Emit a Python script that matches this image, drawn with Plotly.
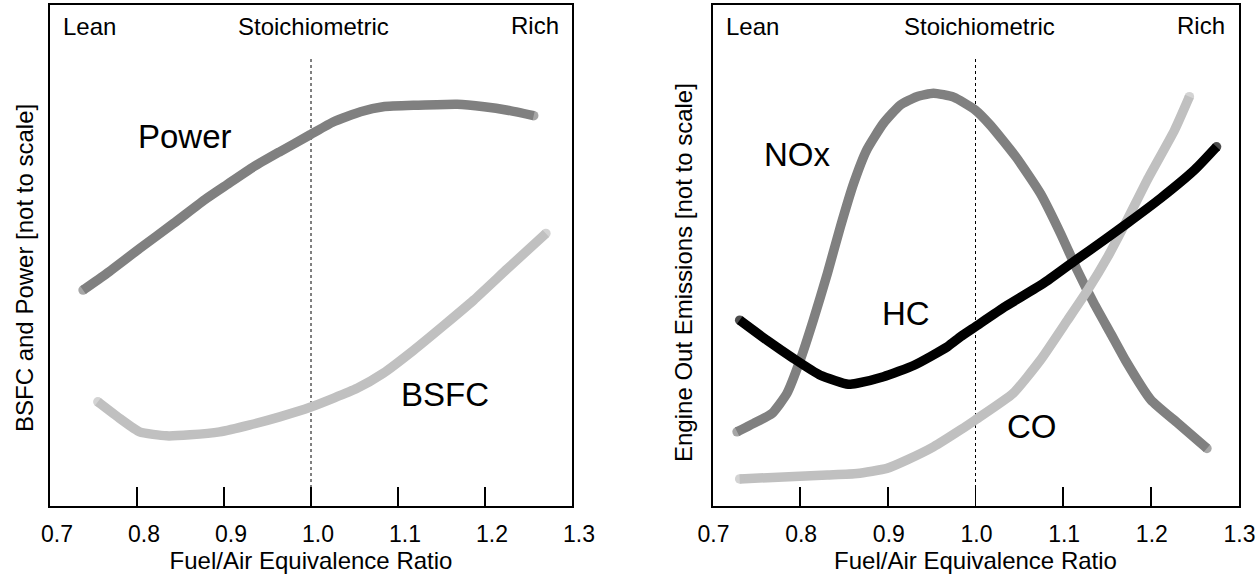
import plotly.graph_objects as go

# ---------------- data ----------------
power_x = [0.738, 0.765, 0.803, 0.842, 0.880, 0.903, 0.934, 0.964, 0.999, 1.026, 1.057,
           1.083, 1.122, 1.168, 1.199, 1.226, 1.256]
power_y = [0.431, 0.464, 0.514, 0.564, 0.614, 0.641, 0.677, 0.707, 0.741, 0.767, 0.787,
           0.797, 0.800, 0.802, 0.797, 0.790, 0.779]

bsfc_x = [0.755, 0.780, 0.803, 0.834, 0.861, 0.895, 0.930, 0.964, 0.999, 1.053, 1.083,
          1.118, 1.153, 1.187, 1.226, 1.270]
bsfc_y = [0.208, 0.175, 0.148, 0.140, 0.142, 0.148, 0.162, 0.178, 0.197, 0.235, 0.265,
          0.311, 0.361, 0.411, 0.474, 0.544]

nox_x = [0.728, 0.747, 0.768, 0.785, 0.800, 0.815, 0.831, 0.846, 0.861, 0.876, 0.895,
         0.914, 0.933, 0.952, 0.975, 1.000, 1.017, 1.046, 1.074, 1.097, 1.116, 1.135,
         1.154, 1.171, 1.200, 1.231, 1.264]
nox_y = [0.148, 0.165, 0.185, 0.225, 0.291, 0.371, 0.464, 0.558, 0.644, 0.711, 0.764,
         0.800, 0.817, 0.824, 0.816, 0.790, 0.760, 0.697, 0.624, 0.544, 0.471, 0.405,
         0.345, 0.291, 0.212, 0.165, 0.115]

hc_x = [0.731, 0.762, 0.792, 0.823, 0.855, 0.865, 0.895, 0.930, 0.968, 0.983, 1.000,
        1.034, 1.078, 1.112, 1.147, 1.173, 1.211, 1.250, 1.275]
hc_y = [0.371, 0.331, 0.295, 0.261, 0.243, 0.245, 0.258, 0.281, 0.318, 0.338, 0.358,
        0.398, 0.445, 0.488, 0.531, 0.564, 0.614, 0.671, 0.717]

co_x = [0.731, 0.781, 0.831, 0.865, 0.899, 0.922, 0.952, 0.983, 1.000, 1.043, 1.074,
        1.105, 1.128, 1.151, 1.173, 1.196, 1.227, 1.244]
co_y = [0.054, 0.058, 0.062, 0.065, 0.075, 0.092, 0.118, 0.152, 0.172, 0.225, 0.291,
        0.371, 0.431, 0.498, 0.571, 0.651, 0.750, 0.817]

stoich_x = [1.0, 1.0]
stoich_y = [0.0, 0.896]

x_ticks = [0.7, 0.8, 0.9, 1.0, 1.1, 1.2, 1.3]
x_tick_text = ["0.7", "0.8", "0.9", "1.0", "1.1", "1.2", "1.3"]

# ---------------- styling ----------------
FONT = "Liberation Sans, Arial, sans-serif"
DARK = "#808080"
LIGHT = "#c0c0c0"
BLACK = "#000000"
LW = 9.5

W, H = 1258, 575
fig = go.Figure()


def curve(x, y, color, xa, ya):
    sizes = [LW] + [0] * (len(x) - 2) + [LW]
    fig.add_trace(go.Scatter(
        x=x, y=y, mode="lines+markers", xaxis=xa, yaxis=ya,
        line=dict(color=color, width=LW, shape="spline", smoothing=0.5),
        marker=dict(color=color, size=sizes, line=dict(width=0)),
        hoverinfo="skip", showlegend=False))


def dotted(xa, ya):
    fig.add_trace(go.Scatter(
        x=stoich_x, y=stoich_y, mode="lines", xaxis=xa, yaxis=ya,
        line=dict(color=BLACK, width=1, dash="dot"),
        hoverinfo="skip", showlegend=False))


# left panel
dotted("x", "y")
curve(power_x, power_y, DARK, "x", "y")
curve(bsfc_x, bsfc_y, LIGHT, "x", "y")
# right panel
dotted("x2", "y2")
curve(nox_x, nox_y, DARK, "x2", "y2")
curve(co_x, co_y, LIGHT, "x2", "y2")
curve(hc_x, hc_y, BLACK, "x2", "y2")


def xaxis_common(shift):
    return dict(
        range=[0.7, 1.3], tickmode="array", tickvals=x_ticks, ticktext=x_tick_text,
        ticks="inside", ticklen=19, tickwidth=1.5, tickcolor=BLACK,
        ticklabelstandoff=6, ticklabelshift=shift,
        showline=True, linecolor=BLACK, linewidth=2, mirror=True,
        showgrid=False, zeroline=False,
        tickfont=dict(family=FONT, size=23, color=BLACK),
        title=dict(text="Fuel/Air Equivalence Ratio",
                   font=dict(family=FONT, size=24, color=BLACK), standoff=7),
        fixedrange=True,
    )


yaxis_common = dict(
    range=[0, 1], showticklabels=False, ticks="",
    showline=True, linecolor=BLACK, linewidth=2, mirror=True,
    showgrid=False, zeroline=False, fixedrange=True,
)

fig.update_layout(
    width=W, height=H,
    margin=dict(l=0, r=0, t=5, b=69, autoexpand=False),
    paper_bgcolor="white", plot_bgcolor="white",
    xaxis=dict(domain=[50 / W, 572 / W], anchor="y", **xaxis_common(7)),
    yaxis=dict(domain=[0, 1], anchor="x", **yaxis_common),
    xaxis2=dict(domain=[712.5 / W, 1238.5 / W], anchor="y2", **xaxis_common(1)),
    yaxis2=dict(domain=[0, 1], anchor="x2", **yaxis_common),
    showlegend=False,
)

ann = []
small = dict(family=FONT, size=24, color=BLACK)
big = dict(family=FONT, size=33, color=BLACK)
for xr, yr, lean_x, st_x, rich_x in [("x", "y", 0.7127, 1.003, 1.2878),
                                      ("x2", "y2", 0.7131, 1.004, 1.2864)]:
    ann.append(dict(x=lean_x, y=0.957, xref=xr, yref=yr, text="Lean", xanchor="left",
                    yanchor="middle", showarrow=False, font=small))
    ann.append(dict(x=st_x, y=0.957, xref=xr, yref=yr, text="Stoichiometric", xanchor="center",
                    yanchor="middle", showarrow=False, font=small))
    ann.append(dict(x=rich_x, y=0.960, xref=xr, yref=yr, text="Rich", xanchor="right",
                    yanchor="middle", showarrow=False, font=small))

ann.append(dict(x=0.855, y=0.737, xref="x", yref="y", text="Power", showarrow=False, font=big))
ann.append(dict(x=1.154, y=0.222, xref="x", yref="y", text="BSFC", showarrow=False, font=big))
ann.append(dict(x=0.797, y=0.701, xref="x2", yref="y2", text="NOx", showarrow=False, font=big))
ann.append(dict(x=0.921, y=0.384, xref="x2", yref="y2", text="HC", showarrow=False, font=big))
ann.append(dict(x=1.065, y=0.159, xref="x2", yref="y2", text="CO", showarrow=False, font=big))

# y-axis titles (placed in paper coordinates; plot area spans 5..506 px)
ann.append(dict(x=24 / W, y=(506 - 268) / 501, xref="paper", yref="paper",
                text="BSFC and Power [not to scale]", textangle=-90, showarrow=False,
                font=small, xanchor="center", yanchor="middle"))
ann.append(dict(x=684 / W, y=(506 - 273) / 501, xref="paper", yref="paper",
                text="Engine Out Emissions [not to scale]", textangle=-90, showarrow=False,
                font=small, xanchor="center", yanchor="middle"))
fig.update_layout(annotations=ann)

fig.write_html("out.html", config={"displayModeBar": False, "staticPlot": True},
               post_script="document.body.style.margin='0';document.body.style.overflow='hidden';")
